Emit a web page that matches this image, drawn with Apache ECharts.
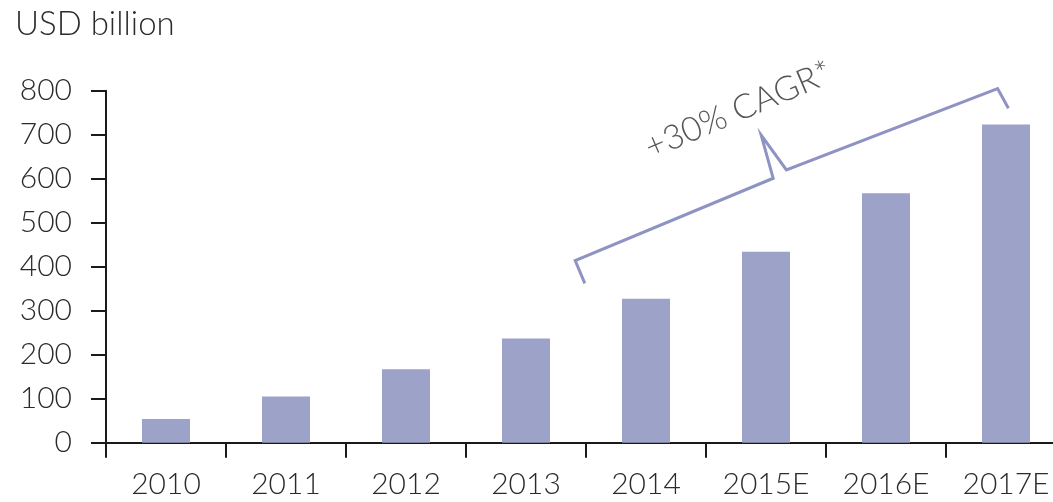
<!DOCTYPE html>
<html>
<head>
<meta charset="utf-8">
<style>
  html, body { margin: 0; padding: 0; background: #ffffff; }
  #chart { width: 1053px; height: 502px; }
</style>
<script src="https://cdn.jsdelivr.net/npm/echarts@6/dist/echarts.min.js"></script>
</head>
<body>
<div id="chart"></div>
<script>
// Market size, USD billion (E = estimate)
const years = ['2010', '2011', '2012', '2013', '2014', '2015E', '2016E', '2017E'];
const values = [54, 105, 167, 237, 327, 434, 567, 723];
const yTicks = [0, 100, 200, 300, 400, 500, 600, 700, 800];

// Growth bracket over 2014–2017E, in (category position, value) units
const bracketX = [3.49, 3.41, 5.06, 4.96, 5.17, 6.93, 7.02];
const bracketY = [362, 414, 601, 699, 620, 805, 760];
const cagrText = '+30% CAGR*';
const cagrPos = [4.77, 756];

const FONT = 'Lato';
const TEXT = '#2b2b2b';
const BAR = '#9da2c8';
const BRACKET = '#8e93c3';

const chart = echarts.init(document.getElementById('chart'), null, { renderer: 'canvas' });

chart.setOption({
  animation: false,
  backgroundColor: '#ffffff',
  title: {
    text: 'USD billion',
    left: 10,
    top: 3,
    textStyle: { fontFamily: FONT, fontWeight: 300, fontSize: 33, color: TEXT }
  },
  grid: {
    left: 106,
    top: 90.7,
    width: 960,
    bottom: 59.3,
    containLabel: false,
    outerBoundsMode: 'none'
  },
  xAxis: [
    {
      type: 'category',
      data: years,
      boundaryGap: true,
      axisLine: { onZero: false, lineStyle: { color: '#1a1a1a', width: 2 } },
      axisTick: { show: true, length: 15, lineStyle: { color: '#1a1a1a', width: 2 } },
      axisLabel: {
        fontFamily: FONT, fontWeight: 300, fontSize: 30, color: TEXT,
        margin: 27, interval: 0, hideOverlap: false
      }
    },
    {
      type: 'value',
      min: -0.5,
      max: 7.5,
      show: false
    }
  ],
  yAxis: {
    type: 'value',
    min: 0,
    max: 800,
    interval: 100,
    splitLine: { show: false },
    axisLine: { show: true, onZero: false, lineStyle: { color: '#1a1a1a', width: 2 } },
    axisTick: { show: true, length: 15, lineStyle: { color: '#1a1a1a', width: 2 } },
    axisLabel: {
      fontFamily: FONT, fontWeight: 300, fontSize: 30, color: TEXT,
      margin: 34,
      formatter: function (v) { return yTicks.indexOf(v) >= 0 ? String(v) : ''; }
    }
  },
  series: [
    {
      type: 'bar',
      xAxisIndex: 0,
      yAxisIndex: 0,
      data: values,
      barWidth: 48,
      itemStyle: { color: BAR },
      silent: true
    },
    {
      type: 'line',
      xAxisIndex: 1,
      yAxisIndex: 0,
      data: bracketX.map(function (x, i) { return [x, bracketY[i]]; }),
      showSymbol: false,
      symbol: 'none',
      clip: false,
      lineStyle: { color: BRACKET, width: 3, join: 'miter' },
      silent: true,
      z: 3
    },
    {
      type: 'scatter',
      xAxisIndex: 1,
      yAxisIndex: 0,
      data: [cagrPos],
      symbolSize: 0,
      clip: false,
      silent: true,
      label: {
        show: true,
        position: 'inside',
        formatter: cagrText,
        rotate: 23,
        fontFamily: FONT,
        fontWeight: 300,
        fontSize: 34,
        color: TEXT
      },
      z: 4
    }
  ]
});
</script>
</body>
</html>
